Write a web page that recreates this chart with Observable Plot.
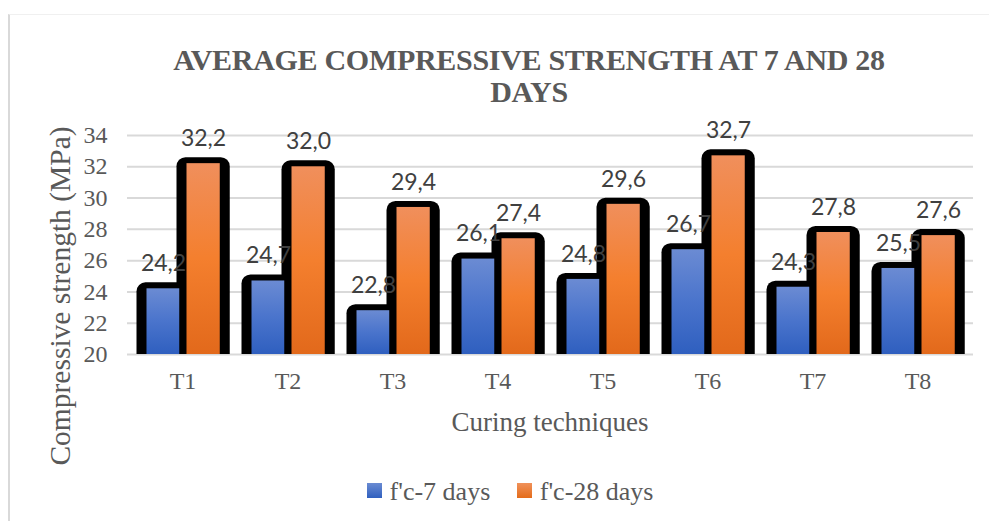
<!DOCTYPE html>
<html>
<head>
<meta charset="utf-8">
<script src="https://cdn.jsdelivr.net/npm/d3@7"></script>
<script src="https://cdn.jsdelivr.net/npm/@observablehq/plot@0.6"></script>
<style>
  html, body { margin: 0; padding: 0; background: #fff; }
  #wrap { position: relative; width: 989px; height: 521px; overflow: hidden; }
  #frame { position: absolute; left: 8px; top: 14px; width: 1200px; height: 600px;
           border-left: 2px solid #d9d9d9; border-top: 1px solid #f0f0f0; }
  #title { position: absolute; left: 0; top: 44px; width: 1058px; text-align: center;
           font-family: "Liberation Serif", "Times New Roman", serif; font-weight: bold;
           font-size: 30px; line-height: 32px; color: #595959; letter-spacing: -0.3px; }
  #ylabel { position: absolute; left: 60px; top: 296px; transform: translate(-50%, -50%) rotate(-90deg);
            white-space: nowrap; font-family: "Liberation Serif", "Times New Roman", serif;
            font-size: 29.5px; color: #595959; }
  #xlabel { position: absolute; left: 550px; top: 422px; transform: translate(-50%, -50%);
            white-space: nowrap; font-family: "Liberation Serif", "Times New Roman", serif;
            font-size: 27px; color: #595959; }
  #legend { position: absolute; left: 0; top: 477px; width: 1020px; text-align: center;
            font-family: "Liberation Serif", "Times New Roman", serif; font-size: 26px; color: #595959; }
  #legend span.item { display: inline-block; margin: 0 10px; }
  #legend span.sw { display: inline-block; width: 15px; height: 15px; margin-right: 8px; vertical-align: 2px; }
  #chart { position: absolute; left: 0; top: 110px; }
  #chart svg g[aria-label$="axis tick label"] text,
  #chart svg g[aria-label$="axis tick label"] {
    font-size: 24px !important; font-family: "Liberation Serif", "Times New Roman", serif !important;
    font-variant: normal !important; fill: #595959 !important; }
</style>
</head>
<body>
<div id="wrap">
  <div id="frame"></div>
  <div id="title">AVERAGE COMPRESSIVE STRENGTH AT 7 AND 28<br>DAYS</div>
  <div id="chart"></div>
  <div id="ylabel">Compressive strength (MPa)</div>
  <div id="xlabel">Curing techniques</div>
  <div id="legend">
    <span class="item"><span class="sw" style="background:linear-gradient(#6a8bd2,#3060bf)"></span>f'c-7 days</span>
    <span class="item"><span class="sw" style="background:linear-gradient(#f0915a,#e46c1a)"></span>f'c-28 days</span>
  </div>
</div>
<script>
const techniques = ["T1", "T2", "T3", "T4", "T5", "T6", "T7", "T8"];
const days7 = [24.2, 24.7, 22.8, 26.1, 24.8, 26.7, 24.3, 25.5];
const days28 = [32.2, 32.0, 29.4, 27.4, 29.6, 32.7, 27.8, 27.6];
const yTicks = [20, 22, 24, 26, 28, 30, 32, 34];
const seriesNames = ["f'c-7 days", "f'c-28 days"];

const d7 = techniques.map((t, i) => ({technique: t, value: days7[i], series: seriesNames[0]}));
const d28 = techniques.map((t, i) => ({technique: t, value: days28[i], series: seriesNames[1]}));
const fmt = v => v.toFixed(1).replace(".", ",");

const blueIn = {insetLeft: 16.5, insetRight: 55.75};
const orangeIn = {insetLeft: 56.5, insetRight: 15.25};
const shadow = (inset) => ({insetLeft: inset.insetLeft - 10, insetRight: inset.insetRight - 10, insetTop: -6, insetBottom: -12, rx: 9, clip: true, fill: "#000"});

const labelFont = {fontFamily: "Lato, 'Open Sans', sans-serif", fontSize: 23, fill: "#404040", textAnchor: "middle", lineAnchor: "middle", dy: -25};

const chart = Plot.plot({
  width: 989,
  height: 334,
  marginLeft: 127,
  marginRight: 16,
  marginTop: 25,
  marginBottom: 90,
  style: {fontFamily: "'Liberation Serif', 'Times New Roman', serif", fontSize: "24px", color: "#595959", background: "transparent"},
  x: {domain: techniques, padding: 0, label: null},
  y: {domain: [20, 34], ticks: yTicks, label: null},
  marks: [
    Plot.gridY(yTicks, {stroke: "#d9d9d9", strokeOpacity: 1, strokeWidth: 2}),
    Plot.axisX({tickSize: 0, tickPadding: 17, label: null, fontSize: 24}),
    Plot.axisY({ticks: yTicks, tickSize: 0, tickPadding: 20, label: null, fontSize: 24}),
    Plot.barY(d7, {x: "technique", y1: 20, y2: "value", ...shadow(blueIn)}),
    Plot.barY(d28, {x: "technique", y1: 20, y2: "value", ...shadow(orangeIn)}),
    Plot.barY(d7, {x: "technique", y1: 20, y2: "value", fill: "url(#gBlue)", ...blueIn}),
    Plot.barY(d28, {x: "technique", y1: 20, y2: "value", fill: "url(#gOrange)", ...orangeIn}),
    Plot.text(d7, {x: "technique", y: "value", text: d => fmt(d.value), dx: -19.5, ...labelFont}),
    Plot.text(d28, {x: "technique", y: "value", text: d => fmt(d.value), dx: 20.5, ...labelFont})
  ]
});

const defs = d3.select(chart).insert("defs", ":first-child");
const grad = (id, top, mid, bottom) => {
  const g = defs.append("linearGradient").attr("id", id).attr("x1", 0).attr("y1", 0).attr("x2", 0).attr("y2", 1);
  g.append("stop").attr("offset", "0%").attr("stop-color", top);
  g.append("stop").attr("offset", "50%").attr("stop-color", mid);
  g.append("stop").attr("offset", "100%").attr("stop-color", bottom);
};
grad("gBlue", "#6b8bd3", "#4a74cc", "#2f5fbf");
grad("gOrange", "#f08f5c", "#f47f2e", "#e2691b");

document.getElementById("chart").appendChild(chart);
</script>
</body>
</html>
